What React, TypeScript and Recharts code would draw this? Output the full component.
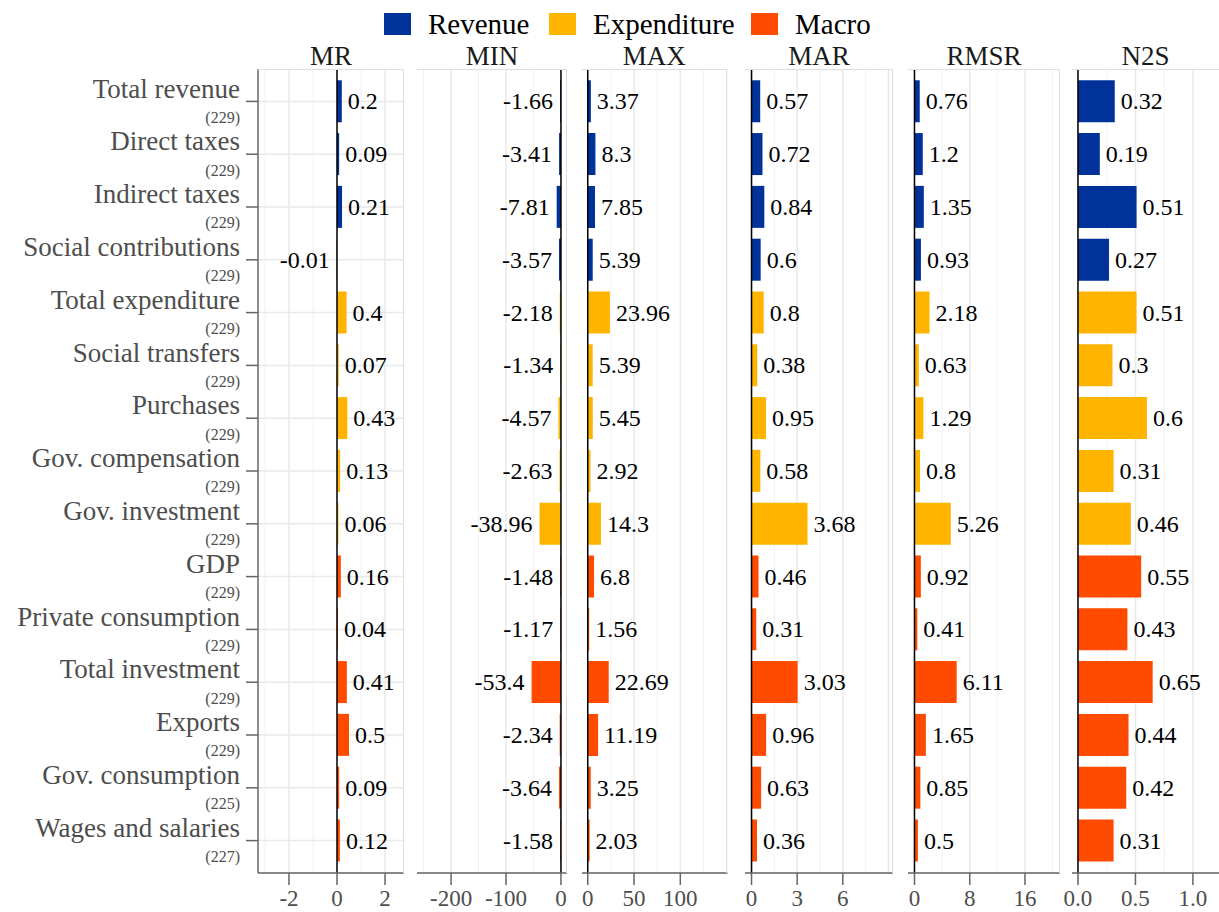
import React from "react"
import {
  BarChart,
  Bar,
  XAxis,
  YAxis,
  CartesianGrid,
  ReferenceLine,
  LabelList,
  Cell,
} from "recharts"

const categories = [
  "Total revenue",
  "Direct taxes",
  "Indirect taxes",
  "Social contributions",
  "Total expenditure",
  "Social transfers",
  "Purchases",
  "Gov. compensation",
  "Gov. investment",
  "GDP",
  "Private consumption",
  "Total investment",
  "Exports",
  "Gov. consumption",
  "Wages and salaries",
]
const counts = [229, 229, 229, 229, 229, 229, 229, 229, 229, 229, 229, 229, 229, 225, 227]
const groups = [
  "Revenue", "Revenue", "Revenue", "Revenue",
  "Expenditure", "Expenditure", "Expenditure", "Expenditure", "Expenditure",
  "Macro", "Macro", "Macro", "Macro", "Macro", "Macro",
]
const groupNames = ["Revenue", "Expenditure", "Macro"]
const groupColors = ["#003299", "#FFB400", "#FF4B00"]

const mr = [0.2, 0.09, 0.21, -0.01, 0.4, 0.07, 0.43, 0.13, 0.06, 0.16, 0.04, 0.41, 0.5, 0.09, 0.12]
const mins = [-1.66, -3.41, -7.81, -3.57, -2.18, -1.34, -4.57, -2.63, -38.96, -1.48, -1.17, -53.4, -2.34, -3.64, -1.58]
const maxs = [3.37, 8.3, 7.85, 5.39, 23.96, 5.39, 5.45, 2.92, 14.3, 6.8, 1.56, 22.69, 11.19, 3.25, 2.03]
const mar = [0.57, 0.72, 0.84, 0.6, 0.8, 0.38, 0.95, 0.58, 3.68, 0.46, 0.31, 3.03, 0.96, 0.63, 0.36]
const rmsr = [0.76, 1.2, 1.35, 0.93, 2.18, 0.63, 1.29, 0.8, 5.26, 0.92, 0.41, 6.11, 1.65, 0.85, 0.5]
const n2s = [0.32, 0.19, 0.51, 0.27, 0.51, 0.3, 0.6, 0.31, 0.46, 0.55, 0.43, 0.65, 0.44, 0.42, 0.31]

const metricNames = ["MR", "MIN", "MAX", "MAR", "RMSR", "N2S"]
const metricValues = [mr, mins, maxs, mar, rmsr, n2s]
const majorTicks = [
  [-2, 0, 2],
  [-200, -100, 0],
  [0, 50, 100],
  [0, 3, 6],
  [0, 8, 16],
  [0, 0.5, 1],
]
const extraMajorGrid = [[], [], [150], [9], [], []]
const minorTicks = [
  [-3, -1, 1],
  [-250, -150, -50],
  [25, 75, 125],
  [1.5, 4.5, 7.5],
  [4, 12, 20],
  [0.25, 0.75],
]
const domains: [number, number][] = [
  [-3.29, 2.79],
  [-262, 11],
  [-6.2, 151],
  [-0.43, 9.3],
  [-0.94, 21.07],
  [-0.052, 1.227],
]

// panel placement (pixels)
const panelLeft = [258, 417, 581.5, 745, 908, 1072]
const panelRight = [404, 567, 727, 893, 1060, 1219]
const PLOT_TOP = 69
const PLOT_H = 804
const XAXIS_H = 39
const YAXIS_W = 258
const SIDE = 26

const FONT = "'Liberation Serif', 'DejaVu Serif', 'Times New Roman', serif"

const rows = categories.map((name, i) => {
  const row: any = { name, n: counts[i], group: groups[i] }
  metricNames.forEach((m, k) => {
    row[m] = metricValues[k][i]
  })
  return row
})

const colorOf = (g: string) => groupColors[groupNames.indexOf(g)]

const gridGen = (vals: number[], domain: [number, number]) => (p: any) => {
  const sc = p?.xAxis?.scale
  if (typeof sc === "function") {
    return vals.map((v) => sc(v))
  }
  const off = p.offset
  return vals.map((v) => off.left + ((v - domain[0]) / (domain[1] - domain[0])) * off.width)
}

const ValueLabel = (props: any) => {
  const { x, y, width, height, value } = props
  const cy = Number(y) + Number(height) / 2
  const x0 = Number(x)
  const x1 = Number(x) + Number(width)
  const pos = Number(value) >= 0
  return (
    <text
      x={pos ? Math.max(x0, x1) + 6 : Math.min(x0, x1) - 7}
      y={cy}
      dy="0.34em"
      textAnchor={pos ? "start" : "end"}
      fontSize={24}
      fontFamily={FONT}
      fill="#000"
    >
      {String(value)}
    </text>
  )
}

const CategoryTick = (props: any) => {
  const { x, y, payload } = props
  const idx = categories.indexOf(payload.value)
  return (
    <g>
      <text x={x} y={y - 13} dy="0.34em" textAnchor="end" fontSize={27} fontFamily={FONT} fill="#4d4d4d">
        {payload.value}
      </text>
      <text x={x} y={y + 16} dy="0.34em" textAnchor="end" fontSize={16} fontFamily={FONT} fill="#4d4d4d">
        ({counts[idx]})
      </text>
    </g>
  )
}

function Panel({ k }: { k: number }) {
  const first = k === 0
  const pw = panelRight[k] - panelLeft[k]
  const leftPad = first ? YAXIS_W : SIDE
  const width = pw + leftPad + SIDE
  const left = panelLeft[k] - leftPad
  const metric = metricNames[k]
  const domain = domains[k]
  const fmt = (v: number) => (k === 5 ? v.toFixed(1) : String(v))
  return (
    <div style={{ position: "absolute", left, top: PLOT_TOP, width, height: PLOT_H + XAXIS_H }}>
      <BarChart
        width={width}
        height={PLOT_H + XAXIS_H}
        data={rows}
        layout="vertical"
        margin={{ top: 0, right: SIDE, bottom: 0, left: first ? 0 : SIDE }}
        barCategoryGap="10%"
        style={{ fontFamily: FONT }}
      >
        <CartesianGrid
          horizontal={false}
          vertical
          stroke="#f1f1f1"
          strokeWidth={1}
          verticalCoordinatesGenerator={gridGen(minorTicks[k], domain)}
        />
        <CartesianGrid
          horizontal
          vertical
          stroke="#e9e9e9"
          strokeWidth={1.5}
          verticalCoordinatesGenerator={gridGen([...majorTicks[k], ...extraMajorGrid[k]], domain)}
        />
        <XAxis
          type="number"
          domain={domain}
          allowDataOverflow
          ticks={majorTicks[k]}
          interval={0}
          tickFormatter={fmt}
          height={XAXIS_H}
          tickSize={12}
          tickMargin={5}
          axisLine={{ stroke: "#666", strokeWidth: 1.5 }}
          tickLine={{ stroke: "#666", strokeWidth: 1.5 }}
          tick={{ fill: "#4d4d4d", fontSize: 23, fontFamily: FONT }}
        />
        {first ? (
          <YAxis
            type="category"
            dataKey="name"
            width={YAXIS_W}
            interval={0}
            padding={{ top: 6, bottom: 6 }}
            tickSize={12}
            tickMargin={6}
            axisLine={{ stroke: "#666", strokeWidth: 1.5 }}
            tickLine={{ stroke: "#666", strokeWidth: 1.5 }}
            tick={<CategoryTick />}
          />
        ) : (
          <YAxis
            type="category"
            dataKey="name"
            width={0}
            interval={0}
            padding={{ top: 6, bottom: 6 }}
            tick={false}
            tickLine={false}
            axisLine={{ stroke: "#666", strokeWidth: 1.5 }}
          />
        )}
        <Bar dataKey={metric} isAnimationActive={false}>
          {rows.map((r, i) => (
            <Cell key={i} fill={colorOf(r.group)} />
          ))}
          <LabelList dataKey={metric} content={<ValueLabel />} />
        </Bar>
        <ReferenceLine x={0} stroke="#000" strokeWidth={1.5} />
      </BarChart>
      {/* light panel frame on top/right */}
      <div
        style={{
          position: "absolute",
          left: leftPad,
          top: 0,
          width: pw,
          height: PLOT_H,
          borderTop: "1.5px solid #dedede",
          borderRight: k === 5 ? "none" : "1.5px solid #dedede",
          boxSizing: "border-box",
          pointerEvents: "none",
        }}
      />
      <div
        style={{
          position: "absolute",
          left: leftPad,
          top: -26,
          width: pw,
          textAlign: "center",
          fontSize: 27,
          lineHeight: "26px",
          color: "#1a1a1a",
        }}
      >
        {metric}
      </div>
    </div>
  )
}

const legendSwatchX = [384, 549, 751]

export default function App() {
  return (
    <div
      style={{
        position: "absolute",
        left: 0,
        top: 0,
        width: 1219,
        height: 912,
        background: "#fff",
        fontFamily: FONT,
        overflow: "hidden",
      }}
    >
      {groupNames.map((g, i) => (
        <div key={g} style={{ position: "absolute", left: legendSwatchX[i], top: 13, display: "flex", alignItems: "center" }}>
          <div style={{ width: 27, height: 22, background: groupColors[i] }} />
          <div style={{ marginLeft: 17, fontSize: 29, lineHeight: "22px", color: "#000" }}>{g}</div>
        </div>
      ))}
      {metricNames.map((m, k) => (
        <Panel key={m} k={k} />
      ))}
    </div>
  )
}
